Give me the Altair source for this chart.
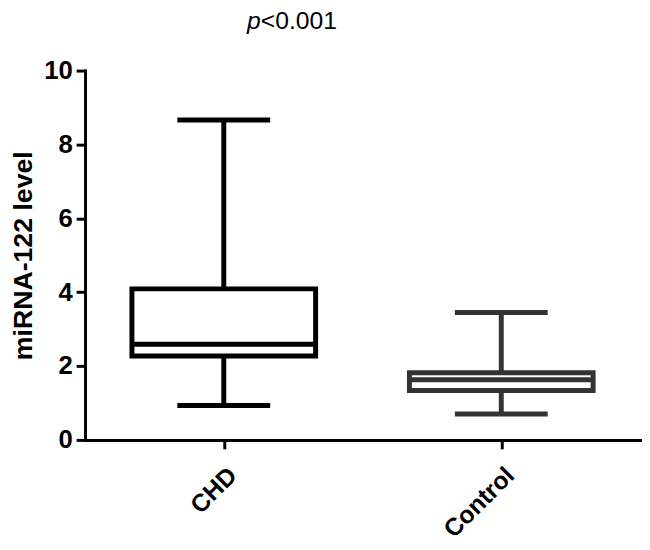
import altair as alt
import pandas as pd

groups = ["CHD", "Control"]
whisker_low = [0.93, 0.70]
q1 = [2.27, 1.34]
median = [2.59, 1.63]
q3 = [4.09, 1.82]
whisker_high = [8.66, 3.45]
colors = ["#000000", "#333333"]
y_ticks = [0, 2, 4, 6, 8, 10]
y_title = "miRNA-122 level"
p_label = "p"
p_value = "<0.001"

df = pd.DataFrame({
    "group": groups,
    "lo": whisker_low,
    "q1": q1,
    "med": median,
    "q3": q3,
    "hi": whisker_high,
})

FONT = "Liberation Sans"

x = alt.X(
    "group:N",
    sort=groups,
    scale=alt.Scale(type="point", padding=0.5),
    axis=alt.Axis(
        title=None, labelAngle=-45, labelFont=FONT, labelFontSize=25,
        labelFontWeight="bold", labelColor="black", domainColor="black",
        domainWidth=3, tickColor="black", tickWidth=3, tickSize=9,
        labelPadding=14,
    ),
)
color = alt.Color("group:N", scale=alt.Scale(domain=groups, range=colors), legend=None)

base = alt.Chart(df)

whisk = base.mark_rule(strokeWidth=5).encode(
    x=x,
    y=alt.Y(
        "lo:Q",
        scale=alt.Scale(domain=[0, 10], nice=False),
        axis=alt.Axis(
            values=y_ticks, grid=False, title=y_title, titleFont=FONT,
            titleFontSize=27, titleFontWeight="bold", titleColor="black",
            titlePadding=6, labelFont=FONT, labelFontSize=26,
            labelFontWeight="bold", labelColor="black", domainColor="black",
            domainWidth=3, tickColor="black", tickWidth=3, tickSize=9,
            labelPadding=4,
        ),
    ),
    y2="hi:Q",
    color=color,
)

cap_lo = base.mark_tick(size=94, thickness=5, opacity=1).encode(x=x, y="lo:Q", color=color)
cap_hi = base.mark_tick(size=94, thickness=5, opacity=1).encode(x=x, y="hi:Q", color=color)

box = base.mark_bar(size=186, fill="white", strokeWidth=5).encode(
    x=x, y="q1:Q", y2="q3:Q", stroke=alt.Stroke("group:N", scale=alt.Scale(domain=groups, range=colors), legend=None)
)
med = base.mark_tick(size=186, thickness=5, opacity=1).encode(x=x, y="med:Q", color=color)

title_df = pd.DataFrame({"p": [p_label], "v": [p_value]})
p_txt = alt.Chart(title_df).mark_text(
    font=FONT, fontSize=25, fontStyle="italic", align="left", baseline="alphabetic", color="black"
).encode(x=alt.value(164), y=alt.value(-42), text="p:N")
v_txt = alt.Chart(title_df).mark_text(
    font=FONT, fontSize=25, align="left", baseline="alphabetic", color="black"
).encode(x=alt.value(178), y=alt.value(-42), text="v:N")

chart = alt.layer(whisk, cap_lo, cap_hi, box, med, p_txt, v_txt).properties(
    width=562, height=374,
    autosize=alt.AutoSizeParams(type="none"),
    padding={"left": 78, "top": 60, "right": 2, "bottom": 100},
).configure_view(stroke=None).configure_axisX(domainCap="square").configure_axisY(domainCap="square")

chart.save("out.html", embed_options={"renderer": "svg", "actions": False})
